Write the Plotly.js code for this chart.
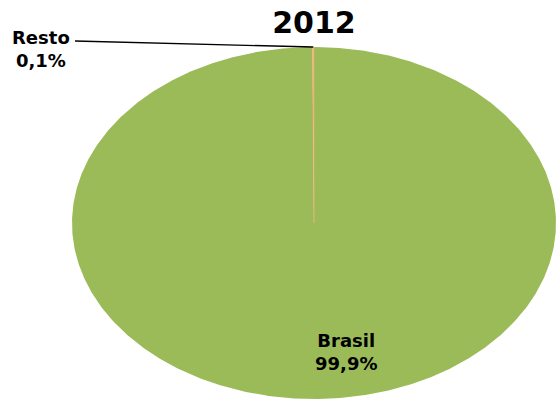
<!DOCTYPE html>
<html>
<head>
<meta charset="utf-8">
<script src="https://cdn.plot.ly/plotly-3.0.1.min.js"></script>
<style>html,body{margin:0;padding:0;background:#fff;}#chart{width:556px;height:399px;}</style>
</head>
<body>
<div id="chart"></div>
<script>
// ---- data ----
const chartTitle = '2012';
const labels = ['Brasil', 'Resto'];
const values = [99.9, 0.1];
const pctLabels = ['99,9%', '0,1%'];
const colors = ['#9BBB59', '#F2B27A'];

// ---- layout geometry (pixels) ----
const W = 556, H = 399;
const cx = 314, cy = 223, rx = 242, ry = 176;   // ellipse centre / radii in px
const total = values.reduce((a, b) => a + b, 0);

const traces = [];
const mids = [];
let cum = 0;
values.forEach((v, i) => {
  const a0 = 90 - cum / total * 360;
  const a1 = 90 - (cum + v) / total * 360;
  cum += v;
  const n = Math.max(2, Math.ceil(Math.abs(a0 - a1) / 0.5) + 1);
  const xs = [0], ys = [0];
  for (let k = 0; k < n; k++) {
    const a = (a0 + (a1 - a0) * k / (n - 1)) * Math.PI / 180;
    xs.push(Math.cos(a)); ys.push(Math.sin(a));
  }
  xs.push(0); ys.push(0);
  const am = ((a0 + a1) / 2) * Math.PI / 180;
  mids.push([Math.cos(am), Math.sin(am)]);
  traces.push({
    type: 'scatter', mode: 'lines', x: xs, y: ys, fill: 'toself',
    fillcolor: colors[i], line: {color: colors[i], width: i === 1 ? 0.5 : 0},
    hoverinfo: 'text', text: labels[i] + ' ' + pctLabels[i], showlegend: false
  });
});

// px -> data helpers
const px2x = p => (p - cx) / rx;
const py2y = p => (cy - p) / ry;

// leader line for "Resto"
traces.push({
  type: 'scatter', mode: 'lines',
  x: [px2x(75), mids[1][0]], y: [py2y(41), mids[1][1]],
  line: {color: '#000', width: 1.3}, hoverinfo: 'skip', showlegend: false
});

const labelFont = {family: 'DejaVu Sans', size: 18, color: '#000', weight: 'bold'};

const layout = {
  width: W, height: H, autosize: false,
  margin: {l: 0, r: 0, t: 0, b: 0},
  paper_bgcolor: '#fff', plot_bgcolor: 'rgba(0,0,0,0)',
  title: {
    text: '<b>' + chartTitle + '</b>',
    font: {family: 'DejaVu Sans', size: 30, color: '#000'},
    x: cx / W, xanchor: 'center', y: 1 - 22 / H, yanchor: 'middle', yref: 'container'
  },
  xaxis: {range: [-cx / rx, (W - cx) / rx], visible: false, fixedrange: true},
  yaxis: {range: [-(H - cy) / ry, cy / ry], visible: false, fixedrange: true},
  annotations: [
    {x: px2x(346), y: py2y(352), xref: 'x', yref: 'y', showarrow: false,
     text: '<b>' + labels[0] + '<br>' + pctLabels[0] + '</b>', font: labelFont, align: 'center'},
    {x: px2x(41), y: py2y(48.5), xref: 'x', yref: 'y', showarrow: false,
     text: '<b>' + labels[1] + '<br>' + pctLabels[1] + '</b>', font: labelFont, align: 'center'}
  ]
};

Plotly.newPlot('chart', traces, layout, {displayModeBar: false, staticPlot: true});
</script>
</body>
</html>
